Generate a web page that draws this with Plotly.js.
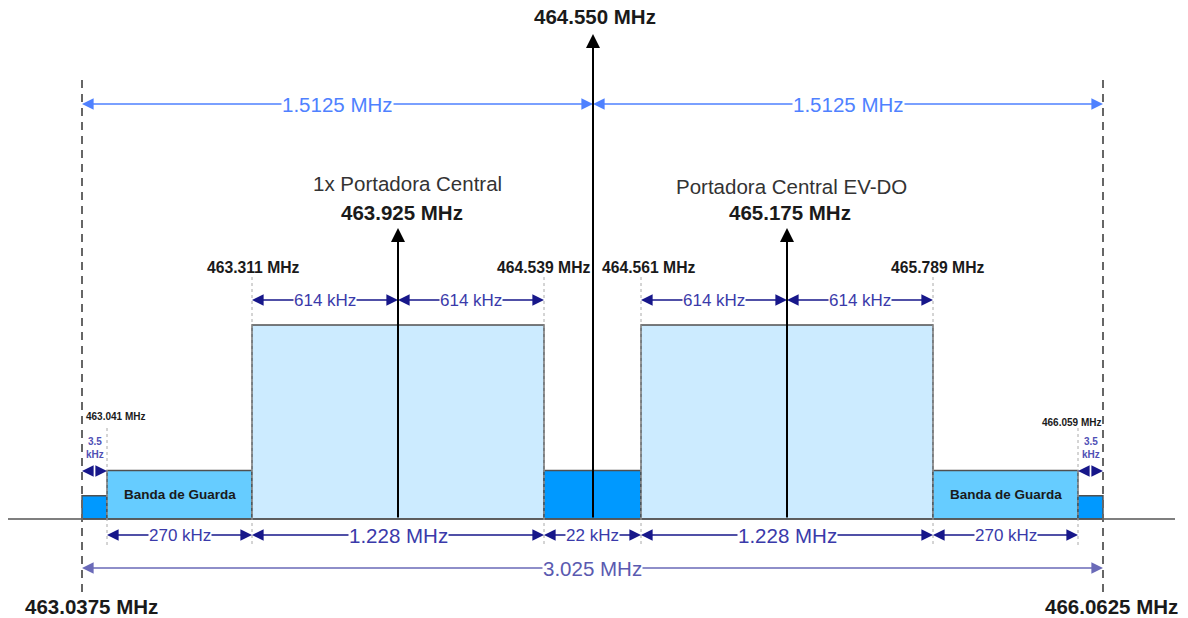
<!DOCTYPE html>
<html><head><meta charset="utf-8">
<script src="https://cdn.plot.ly/plotly-3.0.1.min.js"></script>
<style>html,body{margin:0;padding:0;background:#fff;}#chart{width:1188px;height:618px;}</style>
</head><body><div id="chart"></div>
<script>
// ================= DATA =================
// Frequency boundaries (MHz) of the spectrum plan
const edgeFreqs = [463.0375, 463.041, 463.311, 463.925, 464.539, 464.550, 464.561, 465.175, 465.789, 466.059, 466.0625];

// Spectrum blocks
const blockNames = ['', 'Banda de Guarda', '', '', '', 'Banda de Guarda', ''];
const blockStart = [463.0375, 463.041, 463.311, 464.539, 464.561, 465.789, 466.059];
const blockEnd   = [463.041, 463.311, 464.539, 464.561, 465.789, 466.059, 466.0625];
const blockLevel = [0.12, 0.25, 1.0, 0.25, 1.0, 0.25, 0.12];

// Carriers
const carrierFreqs  = [463.925, 464.550, 465.175];
const carrierLevel  = [1.5, 2.5, 1.5];
const carrierTitles = ['1x Portadora Central', '', 'Portadora Central EV-DO'];
const carrierLabels = ['463.925 MHz', '464.550 MHz', '465.175 MHz'];

// Channel edge markers
const markerFreqs  = [463.311, 464.539, 464.561, 465.789];
const markerLabels = ['463.311 MHz', '464.539 MHz', '464.561 MHz', '465.789 MHz'];
const smallMarkerFreqs  = [463.041, 466.059];
const smallMarkerLabels = ['463.041 MHz', '466.059 MHz'];
const bandEdgeFreqs  = [463.0375, 466.0625];
const bandEdgeLabels = ['463.0375 MHz', '466.0625 MHz'];

// Dimension spans
const spanFrom  = [463.0375, 464.550, 463.311, 463.925, 464.561, 465.175, 463.0375, 466.059, 463.041, 463.311, 464.539, 464.561, 465.789, 463.0375];
const spanTo    = [464.550, 466.0625, 463.925, 464.539, 465.175, 465.789, 463.041, 466.0625, 463.311, 464.539, 464.561, 465.789, 466.059, 466.0625];
const spanLabel = ['1.5125 MHz', '1.5125 MHz', '614 kHz', '614 kHz', '614 kHz', '614 kHz', '3.5<br>kHz', '3.5<br>kHz', '270 kHz', '1.228 MHz', '22 kHz', '1.228 MHz', '270 kHz', '3.025 MHz'];
const spanTier  = ['half', 'half', 'side', 'side', 'side', 'side', 'edge', 'edge', 'band', 'band', 'band', 'band', 'band', 'total'];

// ================= LAYOUT / STYLE =================
// schematic (not-to-scale) horizontal placement of each boundary
const KNOT_X = [82, 107, 252, 398, 544, 593, 641, 787, 933, 1078, 1103];
function sx(f) {
  for (let i = 0; i < edgeFreqs.length - 1; i++) {
    if (f <= edgeFreqs[i + 1] + 1e-9) {
      const t = (f - edgeFreqs[i]) / (edgeFreqs[i + 1] - edgeFreqs[i]);
      return KNOT_X[i] + t * (KNOT_X[i + 1] - KNOT_X[i]);
    }
  }
  return KNOT_X[KNOT_X.length - 1];
}
const PX = 194, BASE = 519;           // vertical scale helpers
const py = p => (BASE - p) / PX;       // page row -> level units
const FONT = 'Liberation Sans, Arial, sans-serif';
const blockColors = ['#0099FF', '#66CCFF', '#CCEBFF', '#0099FF', '#CCEBFF', '#66CCFF', '#0099FF'];

const tierStyle = {
  half:  {y: py(104), line: '#4F81FF', text: '#4F81FF'},
  side:  {y: py(300), line: '#17178A', text: '#3A3AAA'},
  edge:  {y: py(471), line: '#17178A', text: '#5050B5'},
  band:  {y: py(535), line: '#17178A', text: '#3A3AAA'},
  total: {y: py(568), line: '#6A6AB8', text: '#5A5AB0'}
};

const traces = [{
  type: 'bar',
  x: blockStart.map((s, i) => (sx(s) + sx(blockEnd[i])) / 2),
  width: blockStart.map((s, i) => sx(blockEnd[i]) - sx(s)),
  y: blockLevel,
  base: 0,
  marker: {color: blockColors, line: {color: '#505050', width: 1.4}},
  hoverinfo: 'skip'
}];

const shapes = [];
const annotations = [];

// baseline
shapes.push({type: 'line', xref: 'x', yref: 'y', x0: 8, x1: 1175, y0: 0, y1: 0, line: {color: '#555', width: 1.5}});
// dashed band edges
bandEdgeFreqs.forEach(f => shapes.push({type: 'line', xref: 'x', yref: 'y', x0: sx(f), x1: sx(f), y0: py(80), y1: py(596), line: {color: '#666', width: 2, dash: '8px,6px'}}));
// dotted channel edges
markerFreqs.forEach(f => shapes.push({type: 'line', xref: 'x', yref: 'y', x0: sx(f), x1: sx(f), y0: py(277), y1: py(546), line: {color: '#AAAAAA', width: 1, dash: 'dot'}}));
smallMarkerFreqs.forEach(f => shapes.push({type: 'line', xref: 'x', yref: 'y', x0: sx(f), x1: sx(f), y0: py(428), y1: py(546), line: {color: '#AAAAAA', width: 1, dash: 'dot'}}));

// dimension arrows (two halves each pointing outward)
spanFrom.forEach((f0, i) => {
  const st = tierStyle[spanTier[i]];
  const a = sx(f0), b = sx(spanTo[i]), m = (a + b) / 2;
  [a, b].forEach(tip => annotations.push({
    x: tip, y: st.y, ax: m, ay: st.y, xref: 'x', yref: 'y', axref: 'x', ayref: 'y',
    text: '', showarrow: true, arrowhead: 2, arrowsize: 1.55, arrowwidth: 1.5, arrowcolor: st.line,
    font: {size: 1}
  }));
});
spanFrom.forEach((f0, i) => {
  const st = tierStyle[spanTier[i]];
  const m = (sx(f0) + sx(spanTo[i])) / 2;
  if (spanTier[i] === 'edge') {
    annotations.push({x: m, y: py(448), xref: 'x', yref: 'y', text: '<b>' + spanLabel[i] + '</b>', showarrow: false,
      font: {family: FONT, size: 10, color: st.text}, align: 'center'});
  } else {
    annotations.push({x: m, y: st.y, xref: 'x', yref: 'y', text: spanLabel[i], showarrow: false,
      font: {family: FONT, size: spanLabel[i].indexOf('MHz') >= 0 ? 20.5 : 17, color: st.text},
      bgcolor: '#ffffff', borderpad: 0});
  }
});

// carrier arrows & labels
carrierFreqs.forEach((f, i) => {
  annotations.push({x: sx(f), y: carrierLevel[i], ax: sx(f), ay: 0, xref: 'x', yref: 'y', axref: 'x', ayref: 'y',
    text: '', showarrow: true, arrowhead: 2, arrowsize: 1.4, arrowwidth: 2, arrowcolor: '#000', font: {size: 1}});
});
const carrierTitleY = [py(183), 0, py(186)];
const carrierTitleShift = [9, 0, 4];
const carrierLabelY = [py(212), py(16), py(212)];
const carrierLabelShift = [4, 2, 3];
carrierFreqs.forEach((f, i) => {
  if (carrierTitles[i]) annotations.push({x: sx(f), y: carrierTitleY[i], xref: 'x', yref: 'y', xshift: carrierTitleShift[i],
    text: carrierTitles[i], showarrow: false, font: {family: FONT, size: 20.5, color: '#333'}});
  annotations.push({x: sx(f), y: carrierLabelY[i], xref: 'x', yref: 'y', xshift: carrierLabelShift[i],
    text: '<b>' + carrierLabels[i] + '</b>', showarrow: false, font: {family: FONT, size: 20.5, color: '#1a1a1a'}});
});

// channel edge labels
const markerShift = [1, -1, 7, 4];
markerFreqs.forEach((f, i) => annotations.push({x: sx(f), y: py(267), xref: 'x', yref: 'y', xshift: markerShift[i],
  text: '<b>' + markerLabels[i] + '</b>', showarrow: false, font: {family: FONT, size: 15.7, color: '#1a1a1a'}}));
const smallAnchor = ['left', 'right'];
const smallY = [py(416), py(422)];
smallMarkerFreqs.forEach((f, i) => annotations.push({x: sx(bandEdgeFreqs[i]), y: smallY[i], xref: 'x', yref: 'y',
  xanchor: smallAnchor[i], xshift: i === 0 ? 2 : 0,
  text: '<b>' + smallMarkerLabels[i] + '</b>', showarrow: false, font: {family: FONT, size: 10, color: '#1a1a1a'}}));
bandEdgeFreqs.forEach((f, i) => annotations.push({x: sx(f), y: py(606), xref: 'x', yref: 'y', xshift: i === 0 ? 9 : 8,
  text: '<b>' + bandEdgeLabels[i] + '</b>', showarrow: false, font: {family: FONT, size: 20.5, color: '#1a1a1a'}}));

// guard band names
blockNames.forEach((n, i) => { if (n) annotations.push({x: (sx(blockStart[i]) + sx(blockEnd[i])) / 2, y: blockLevel[i] / 2,
  xref: 'x', yref: 'y', text: '<b>' + n + '</b>', showarrow: false, font: {family: FONT, size: 13.5, color: '#1a1a1a'}}); });

const layout = {
  width: 1188, height: 618,
  margin: {l: 0, r: 0, t: 0, b: 0},
  paper_bgcolor: '#fff', plot_bgcolor: '#fff',
  showlegend: false, barmode: 'overlay',
  xaxis: {range: [0, 1188], visible: false, fixedrange: true},
  yaxis: {range: [py(618), py(0)], visible: false, fixedrange: true},
  shapes: shapes, annotations: annotations,
  font: {family: FONT}
};
Plotly.newPlot('chart', traces, layout, {displayModeBar: false, staticPlot: true});
</script></body></html>
